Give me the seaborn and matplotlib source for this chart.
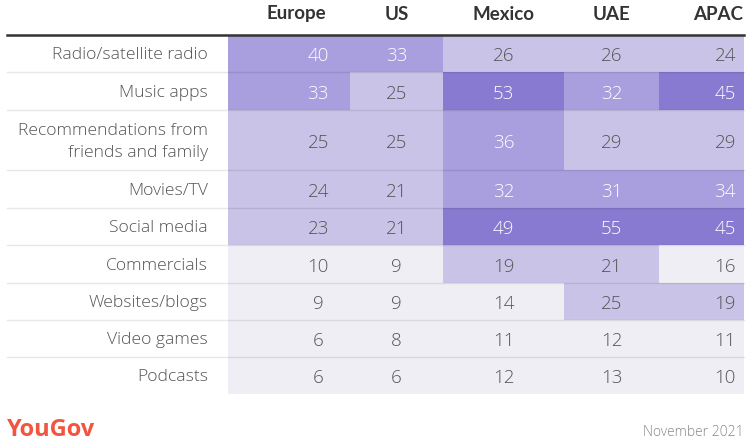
import numpy as np
import pandas as pd
import matplotlib
matplotlib.use('Agg')
import matplotlib.pyplot as plt
import seaborn as sns
from matplotlib.colors import ListedColormap
from matplotlib.transforms import blended_transform_factory, offset_copy

sources = ['Radio/satellite radio', 'Music apps', 'Recommendations from\nfriends and family',
           'Movies/TV', 'Social media', 'Commercials', 'Websites/blogs', 'Video games', 'Podcasts']
regions = ['Europe', 'US', 'Mexico', 'UAE', 'APAC']
europe = [40, 33, 25, 24, 23, 10, 9, 6, 6]
us = [33, 25, 25, 21, 21, 9, 9, 8, 6]
mexico = [26, 53, 36, 32, 49, 19, 14, 11, 12]
uae = [26, 32, 29, 31, 55, 21, 25, 12, 13]
apac = [24, 45, 29, 34, 45, 16, 19, 11, 10]

# colour bands
band_edges = [17, 30, 45]
band_colors = ['#efeef5', '#c9c3e7', '#a99ede', '#8879d1']
band_text = ['#555555', '#555555', '#ffffff', '#ffffff']

# layout (pixels of a 750x447 figure)
W, H = 750, 447
col_edges = [228, 350, 443, 564, 659, 744]
row_edges = [35, 71.7, 110, 170, 208, 245, 283, 320, 357, 394]
num_offset = [0.74, 0.5, 0.5, 0.5, 0.78]
head_offset = [0.56, 0.5, 0.5, 0.5, 0.7]
line_left = 7

FONT = 'Open Sans'
HEAD_FONT = 'Lato'


def piecewise_scale(edges):
    idx = np.arange(len(edges), dtype=float)
    e = np.asarray(edges, dtype=float)

    def fwd(v):
        v = np.asarray(v, dtype=float)
        out = np.interp(v, idx, e)
        out = np.where(v < 0, e[0] + v * (e[1] - e[0]), out)
        out = np.where(v > idx[-1], e[-1] + (v - idx[-1]) * (e[-1] - e[-2]), out)
        return out

    def inv(p):
        p = np.asarray(p, dtype=float)
        out = np.interp(p, e, idx)
        out = np.where(p < e[0], (p - e[0]) / (e[1] - e[0]), out)
        out = np.where(p > e[-1], idx[-1] + (p - e[-1]) / (e[-1] - e[-2]), out)
        return out

    return fwd, inv


def main():
    df = pd.DataFrame({'Europe': europe, 'US': us, 'Mexico': mexico, 'UAE': uae, 'APAC': apac},
                      index=sources)
    bands = np.digitize(df.values, band_edges)

    fig = plt.figure(figsize=(W / 100, H / 100), dpi=100)
    ax = fig.add_axes([col_edges[0] / W, 1 - row_edges[-1] / H,
                       (col_edges[-1] - col_edges[0]) / W, (row_edges[-1] - row_edges[0]) / H])

    sns.heatmap(bands, ax=ax, cmap=ListedColormap(band_colors), vmin=-0.5, vmax=3.5,
                cbar=False, xticklabels=False, yticklabels=False, linewidths=0)

    # uneven column widths / row heights
    ax.set_xscale('function', functions=piecewise_scale(col_edges))
    ax.set_yscale('function', functions=piecewise_scale(row_edges))
    ax.set_xlim(0, len(regions))
    ax.set_ylim(len(sources), 0)
    ax.set_xticks([])
    ax.set_yticks([])
    ax.tick_params(which='both', length=0)
    ax.minorticks_off()
    for s in ax.spines.values():
        s.set_visible(False)

    num_tr = offset_copy(ax.transData, fig=fig, y=-3, units='dots')
    for i in range(len(sources)):
        for j, reg in enumerate(regions):
            ax.text(j + num_offset[j], i + 0.5, str(df.iloc[i, j]), transform=num_tr,
                    ha='center', va='center', fontsize=13.5, fontweight='light',
                    color=band_text[bands[i, j]], family=FONT)

    ext = (line_left - col_edges[0]) / (col_edges[-1] - col_edges[0])
    ax.axhline(0, xmin=ext, xmax=1, color='#333333', lw=1.8, clip_on=False)
    for i in range(1, len(sources)):
        ax.axhline(i, xmin=ext, xmax=1, color='black', alpha=0.09, lw=1, clip_on=False)

    lab_tr = offset_copy(blended_transform_factory(ax.transAxes, ax.transData),
                         fig=fig, y=-2, units='dots')
    lab_x = (208 - col_edges[0]) / (col_edges[-1] - col_edges[0])
    for i, src in enumerate(sources):
        ax.text(lab_x, i + 0.5, src, transform=lab_tr, ha='right', va='center',
                fontsize=12.6, fontweight='light', color='#555555', family=FONT,
                linespacing=1.45)

    head_tr = blended_transform_factory(ax.transData, ax.transAxes)
    head_y = 1 + (row_edges[0] - 14) / (row_edges[-1] - row_edges[0])
    for j, reg in enumerate(regions):
        ax.text(j + head_offset[j], head_y, reg, transform=head_tr, ha='center', va='center',
                fontsize=13.5, fontweight='bold', color='#333333', family=HEAD_FONT)

    fig.text(line_left / W, 1 - 430 / H, 'YouGov', ha='left', va='center', fontsize=17,
             fontweight='bold', color='#f2553f', family=FONT)
    fig.text(744 / W, 1 - 432 / H, 'November 2021', ha='right', va='center', fontsize=10,
             fontweight='light', color='#888888', family=FONT)

    fig.savefig('out.png', dpi=100)


if __name__ == '__main__':
    main()
